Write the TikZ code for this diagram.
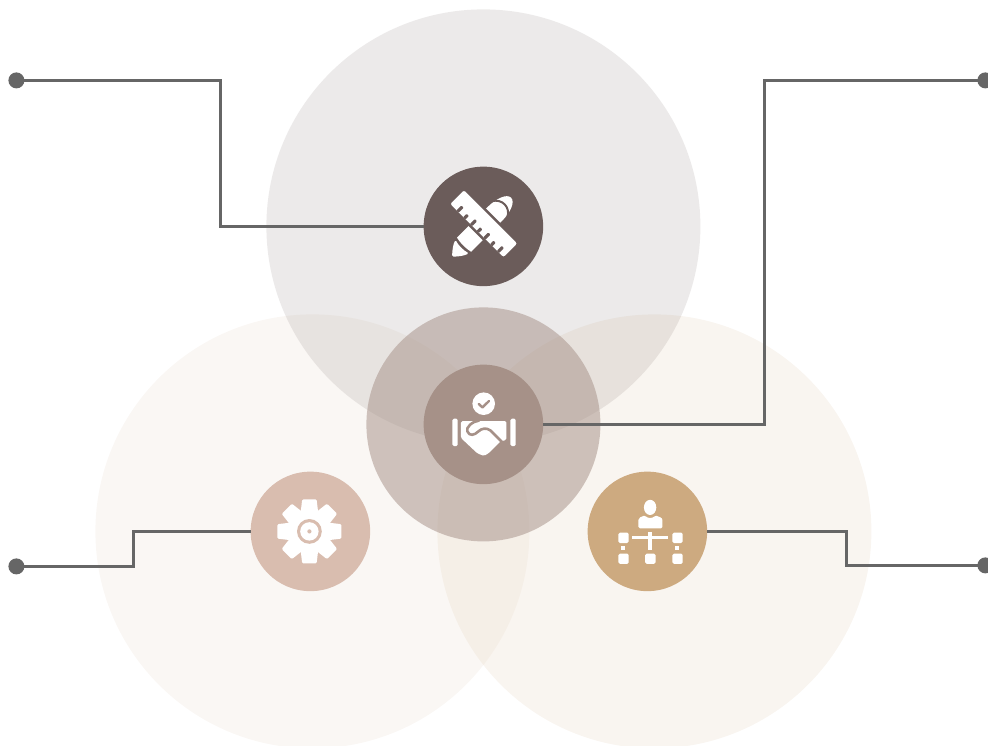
\documentclass[tikz,border=0pt]{standalone}
\definecolor{topc}{HTML}{6B5C5A}
\definecolor{midc}{HTML}{A69188}
\definecolor{leftc}{HTML}{D9BDAF}
\definecolor{lefth}{HTML}{E6D7C8}
\definecolor{rightc}{HTML}{CDAA80}
\definecolor{linec}{HTML}{666666}
\tikzset{
  x=1pt,y=-1pt,
  halo/.style={circle,inner sep=0pt,outer sep=0pt,minimum size=434pt,draw=none},
  badge/.style={circle,inner sep=0pt,outer sep=0pt,minimum size=119.5pt,draw=none},
  enddot/.style={circle,inner sep=0pt,outer sep=0pt,minimum size=16pt,fill=linec},
  wire/.style={draw=linec,line width=2.5pt,line join=miter},
}
\begin{document}
\begin{tikzpicture}
\useasboundingbox (0,0) rectangle (988,746);
\clip (0,0) rectangle (988,746);
\begin{scope}[shift={(.4,.4)}]
% halos
\node[halo,fill=rightc,fill opacity=.12] (haloR) at (654,531) {};
\node[halo,fill=lefth,fill opacity=.2] (haloL) at (312,531) {};
\node[halo,fill=topc,fill opacity=.13] (haloT) at (483,226) {};
\node[circle,inner sep=0pt,outer sep=0pt,minimum size=234pt,fill=midc,fill opacity=.52] (haloM) at (483,424) {};
% badges
\node[badge,fill=topc] (design) at (483,226) {};
\node[badge,fill=midc] (deal) at (483,424) {};
\node[badge,fill=leftc] (gear) at (310,531) {};
\node[badge,fill=rightc] (org) at (647,531) {};
% end dots
\coordinate (b1) at (220,80);
\coordinate (b2) at (764,80);
\coordinate (b3) at (133,566);
\coordinate (b4) at (846,565);
\node[enddot] (dTL) at (16,80) {};
\node[enddot] (dTR) at (985,80) {};
\node[enddot] (dBL) at (16,566) {};
\node[enddot] (dBR) at (985,565) {};
% connectors
\draw[wire] (dTL.center) -- (b1) |- (design.west);
\draw[wire] (dTR.center) -- (b2) |- (deal.east);
\draw[wire] (dBL.center) -| (b3) |- (gear.west);
\draw[wire] (dBR.center) -| (b4) |- (org.east);
% pencil and ruler
\begin{scope}[shift={(452,256)},rotate=45]
  \fill[white,rounded corners=1.5pt] (-.5,0) .. controls (5,-5) and (9,-8) .. (14,-9.5) .. controls (12,-4) and (12,4) .. (14,9.5) .. controls (9,8) and (5,5) .. (-.5,0) -- cycle;
  \fill[white] (16.5,-10) .. controls (15,-4) and (15,4) .. (16.5,10) -- (34,10) -- (34,-10) -- cycle;
  \fill[white] (36,-10) -- (60,-10) .. controls (72,-10) and (83,-6) .. (83,0) .. controls (83,6) and (72,10) .. (60,10) -- (36,10) -- cycle;
  \draw[topc,line width=2pt] (67,-11) .. controls (76,-6) and (76,6) .. (67,11);
\end{scope}
\begin{scope}[shift={(483.3,223.3)},rotate=-45]
  \fill[white,draw=topc,line width=2.5pt,rounded corners=3pt] (-39,-11) rectangle (39,11);
  \foreach \t/\h in {-27/7,-17.5/5,-8/7,1.5/5,11/7,20.5/5,30/7}
    \fill[topc,rounded corners=.8pt] (\t-1.6,10) rectangle (\t+1.6,10-\h);
\end{scope}
% handshake
\fill[white] (483.3,403.3) circle[radius=11.3];
\draw[midc,line width=2.4pt,line cap=round,line join=round] (478.3,403.5) -- (482,407) -- (488.7,400.5);
\fill[white,rounded corners=1.5pt] (452,418.3) rectangle (457.3,445.7);
\fill[white,rounded corners=1.5pt] (510,418.3) rectangle (515.3,445.7);
\fill[white,rounded corners=1.5pt] (460.5,420.7) -- (506,420.7) -- (506,439.5) -- (500,441) -- (488,453) -- (483.5,455.5) -- (477,453) -- (460.5,437.5) -- cycle;
\draw[midc,line width=2.6pt,line cap=butt,line join=round] (479,420) .. controls (472,421) and (465,427) .. (467,431) .. controls (469,436) and (474,435) .. (478,431) .. controls (481,428) and (486,427) .. (490,430) -- (502,442);
% gear
\begin{scope}[shift={(309,531)}]
  \fill[white] (0,0) circle[radius=21];
  \foreach \a in {0,45,...,315}
    \fill[white,rotate=\a,rounded corners=1.2pt] (17,-9) -- (32,-7.2) -- (32,7.2) -- (17,9) -- cycle;
  \fill[leftc] (0,0) circle[radius=12.4];
  \fill[white] (0,0) circle[radius=9.2];
  \fill[leftc] (0,0) circle[radius=2.1];
\end{scope}
% org chart
\fill[white] (649.7,507) ellipse[x radius=6.2,y radius=7.6];
\fill[white,rounded corners=1.5pt] (638,528) -- (638,521) .. controls (638,517.5) and (641,516) .. (645,515) .. controls (647,518) and (652.5,518) .. (654.5,515) .. controls (658.5,516) and (662,517.5) .. (662,521) -- (662,528) -- cycle;
\foreach \x/\y/\s in {618/532.3/10.3,672/532.3/10.3,618/553.2/10.3,644.8/553.2/10.3,672/553.2/10.3}
  \fill[white,rounded corners=1.5pt] (\x,\y) rectangle (\x+\s,\y+\s);
\fill[white] (621,546) rectangle (625,549.7);
\fill[white] (675,546) rectangle (679,549.7);
\fill[white] (632,535.3) rectangle (668,539);
\fill[white] (648,532) rectangle (651.7,549.3);
\end{scope}
\end{tikzpicture}
\end{document}
